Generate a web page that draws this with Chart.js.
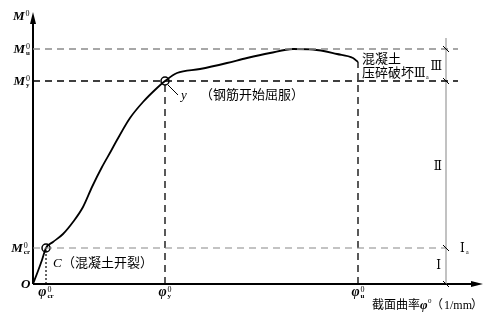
<!DOCTYPE html>
<html>
<head>
<meta charset="utf-8">
<script src="https://cdn.jsdelivr.net/npm/chart.js@4"></script>
<style>
body { margin: 0; background: #fff; }
#wrap { width: 497px; height: 315px; }
</style>
</head>
<body>
<div id="wrap"><canvas id="chart"></canvas></div>
<script>
// Key curvatures (phi_cr, phi_y, phi_u) and moments (M_cr, M_y, M_u), arbitrary units
const phiKeys = [13, 132, 325];
const phiSubs = ['cr', 'y', 'u'];
const mKeys = [36, 203, 235];
const mSubs = ['cr', 'y', 'u'];

// M - phi curve
const curveX = [0, 5, 9, 13, 20, 30, 40, 50, 59, 69, 78, 84, 97, 110, 124, 132, 144, 167, 194, 214, 237, 260, 280, 304, 320, 325];
const curveY = [0, 13, 24, 36, 42, 50, 62, 77, 97, 117, 133, 144, 166, 182, 196, 203, 211, 215, 221, 226, 231, 235, 234.5, 230, 226, 222];

// stage boundary line on the right
const stageX = 413;

const serif = '"Liberation Serif", "DejaVu Serif", serif';
const cjk = '"Noto Sans CJK SC", sans-serif';

function seg(x1, y1, x2, y2, color, dash, width) {
    return {
        type: 'scatter',
        data: [{ x: x1, y: y1 }, { x: x2, y: y2 }],
        showLine: true,
        borderColor: color,
        borderWidth: width || 1,
        borderDash: dash || [],
        pointRadius: 0,
        clip: false
    };
}

const curve = curveX.map((x, i) => ({ x: x, y: curveY[i] }));

const datasets = [
    // guide lines
    seg(0, mKeys[0], stageX, mKeys[0], '#888', [7, 5], 1.2),
    seg(0, mKeys[1], 425, mKeys[1], '#000', [7, 5], 1.3),
    seg(0, mKeys[2], 425, mKeys[2], '#8a8a8a', [7, 5], 1.6),
    seg(phiKeys[0], 0, phiKeys[0], mKeys[0], '#000', [2, 2], 1.2),
    seg(phiKeys[1], 0, phiKeys[1], mKeys[1], '#000', [7, 5], 1.3),
    seg(phiKeys[2], 0, phiKeys[2], curveY[curveY.length - 1], '#000', [7, 5], 1.3),
    seg(stageX, 0, stageX, 246, '#999', [], 1.2),
    // axes
    seg(0, 0, 446, 0, '#000', [], 2),
    seg(0, 0, 0, 266, '#000', [], 2),
    {
        type: 'scatter',
        data: curve,
        showLine: true,
        borderColor: '#000',
        borderWidth: 1.8,
        cubicInterpolationMode: 'monotone',
        pointRadius: 0,
        clip: false
    },
    {
        type: 'scatter',
        data: [{ x: phiKeys[0], y: mKeys[0] }, { x: phiKeys[1], y: mKeys[1] }],
        showLine: false,
        pointRadius: 4,
        pointBackgroundColor: '#fff',
        pointBorderColor: '#000',
        pointBorderWidth: 1.5,
        clip: false
    }
];

// base letter with superscript 0 and optional subscript
function mathLabel(ctx, x, y, base, sub, align, size) {
    const baseFont = 'bold italic ' + size + 'px ' + serif;
    ctx.font = baseFont;
    const wb = ctx.measureText(base).width;
    ctx.font = '8px ' + serif;
    const ws = ctx.measureText('0').width;
    ctx.font = 'bold 7px ' + serif;
    const wsub = sub ? ctx.measureText(sub).width : 0;
    const total = wb + Math.max(ws, wsub) + 1;
    let x0 = x;
    if (align === 'right') x0 = x - total;
    if (align === 'center') x0 = x - total / 2;
    ctx.textAlign = 'left';
    ctx.textBaseline = 'alphabetic';
    ctx.font = baseFont;
    ctx.fillText(base, x0, y);
    ctx.font = '8px ' + serif;
    ctx.fillText('0', x0 + wb + 1, y - 4);
    if (sub) {
        ctx.font = 'bold 7px ' + serif;
        ctx.fillText(sub, x0 + wb + 1, y + 2);
    }
}

const annotations = {
    id: 'annotations',
    afterDatasetsDraw(chart) {
        const ctx = chart.ctx;
        const xs = chart.scales.x, ys = chart.scales.y;
        const px = v => xs.getPixelForValue(v);
        const py = v => ys.getPixelForValue(v);
        ctx.save();
        ctx.fillStyle = '#000';
        ctx.strokeStyle = '#000';

        // arrowheads
        ctx.beginPath();
        ctx.moveTo(px(0), py(272));
        ctx.lineTo(px(0) - 3, py(260));
        ctx.lineTo(px(0) + 3, py(260));
        ctx.closePath();
        ctx.fill();
        ctx.beginPath();
        ctx.moveTo(px(450), py(0));
        ctx.lineTo(px(438), py(0) - 3);
        ctx.lineTo(px(438), py(0) + 3);
        ctx.closePath();
        ctx.fill();

        // small slashes where guides meet the stage line
        ctx.lineWidth = 1;
        [0, mKeys[0], mKeys[1], mKeys[2]].forEach(m => {
            ctx.beginPath();
            ctx.moveTo(px(stageX) - 3, py(m) - 3);
            ctx.lineTo(px(stageX) + 3, py(m) + 3);
            ctx.stroke();
        });

        // leader to yield point
        ctx.beginPath();
        ctx.moveTo(px(phiKeys[1]) + 3, py(mKeys[1]) + 4);
        ctx.lineTo(px(phiKeys[1]) + 13, py(mKeys[1]) + 14);
        ctx.stroke();

        // axis labels
        mathLabel(ctx, px(0) - 20, py(272) + 8, 'M', '', 'left', 13);
        mKeys.forEach((m, i) => mathLabel(ctx, px(0) - 3, py(m) + 4, 'M', mSubs[i], 'right', 13));
        phiKeys.forEach((p, i) => mathLabel(ctx, px(p), py(0) + 12, 'φ', phiSubs[i], 'center', 14));

        ctx.font = 'bold italic 13px ' + serif;
        ctx.textAlign = 'left';
        ctx.fillText('O', px(0) - 12, py(0) + 4);

        // point labels
        ctx.font = 'italic 13px ' + serif;
        ctx.fillText('C', px(phiKeys[0]) + 7, py(mKeys[0]) + 19);
        ctx.fillText('y', px(phiKeys[1]) + 16, py(mKeys[1]) + 18);
        ctx.font = '13px ' + cjk;
        ctx.fillText('（混凝土开裂）', px(phiKeys[0]) + 16, py(mKeys[0]) + 19);
        ctx.fillText('（钢筋开始屈服）', px(phiKeys[1]) + 35, py(mKeys[1]) + 18);
        ctx.fillText('混凝土', px(phiKeys[2]) + 4, py(mKeys[2]) + 14);
        ctx.fillText('压碎破坏', px(phiKeys[2]) + 4, py(mKeys[2]) + 28);

        // stage numerals
        ctx.font = '12px ' + serif;
        ctx.fillText('Ⅲ', px(phiKeys[2]) + 56, py(mKeys[2]) + 28);
        ctx.font = '6px ' + serif;
        ctx.fillText('a', px(phiKeys[2]) + 68, py(mKeys[2]) + 30);
        ctx.font = '12px ' + serif;
        ctx.textAlign = 'right';
        ctx.fillText('Ⅲ', px(stageX) - 4, py((mKeys[1] + mKeys[2]) / 2) + 5);
        ctx.fillText('Ⅱ', px(stageX) - 4, py((mKeys[0] + mKeys[1]) / 2) + 5);
        ctx.fillText('Ⅰ', px(stageX) - 5, py(mKeys[0] / 2) + 3);
        ctx.textAlign = 'left';
        ctx.fillText('Ⅰ', px(stageX) + 14, py(mKeys[0]) + 4);
        ctx.font = '6px ' + serif;
        ctx.fillText('a', px(stageX) + 20, py(mKeys[0]) + 6);

        // x axis title
        ctx.font = '12px ' + cjk;
        ctx.fillText('截面曲率', 372, py(0) + 25);
        ctx.font = 'bold italic 13px ' + serif;
        ctx.fillText('φ', 420, py(0) + 25);
        ctx.font = '7px ' + serif;
        ctx.fillText('0', 428, py(0) + 19);
        ctx.font = '12px ' + cjk;
        ctx.fillText('（', 431, py(0) + 25);
        ctx.font = '12px ' + serif;
        ctx.fillText('1/mm', 444, py(0) + 25);
        ctx.font = '12px ' + cjk;
        ctx.fillText('）', 471, py(0) + 25);

        ctx.restore();
    }
};

new Chart(document.getElementById('chart').getContext('2d'), {
    type: 'scatter',
    data: { datasets: datasets },
    options: {
        responsive: true,
        maintainAspectRatio: false,
        animation: false,
        layout: { padding: { left: 33, right: 14, top: 12, bottom: 31 } },
        scales: {
            x: { type: 'linear', min: 0, max: 450, display: false },
            y: { type: 'linear', min: 0, max: 272, display: false }
        },
        plugins: {
            legend: { display: false },
            tooltip: { enabled: false }
        }
    },
    plugins: [annotations]
});
</script>
</body>
</html>
